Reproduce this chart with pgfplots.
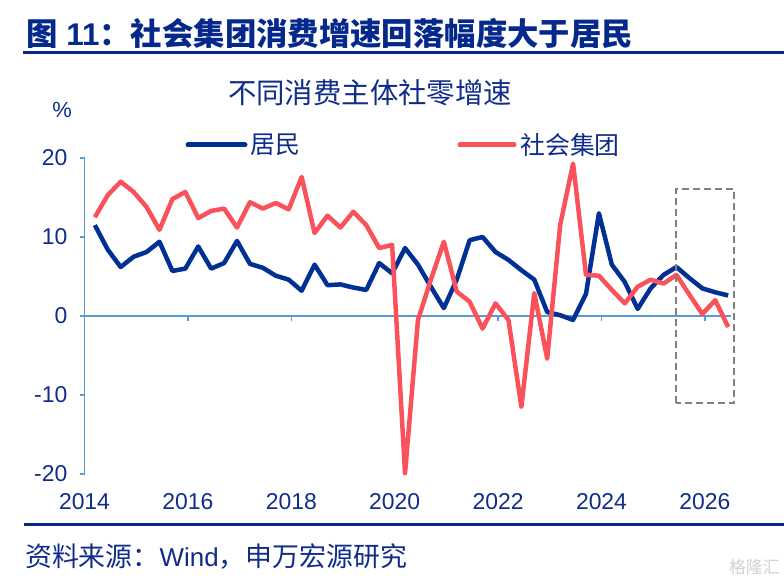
\documentclass[border=0pt]{standalone}
\usepackage{pgfplots}
\pgfplotsset{compat=1.18}
\usepackage{fontspec}
\setmainfont{Liberation Sans}
\newfontfamily\cjk{Noto Sans CJK SC}
\definecolor{textblue}{RGB}{16,44,138}
\definecolor{titleblue}{RGB}{4,40,140}
\definecolor{blueline}{RGB}{0,48,150}
\definecolor{redline}{RGB}{250,82,90}
\definecolor{axisblue}{RGB}{90,155,213}
\pgfplotstableread{
x blue red
2014.20 11.5 12.5
2014.45 8.4 15.3
2014.70 6.2 17.0
2014.95 7.5 15.7
2015.20 8.1 13.8
2015.45 9.4 10.9
2015.70 5.7 14.8
2015.95 6.0 15.7
2016.20 8.8 12.4
2016.45 6.0 13.3
2016.70 6.7 13.6
2016.95 9.5 11.2
2017.20 6.6 14.4
2017.45 6.1 13.6
2017.70 5.1 14.3
2017.95 4.6 13.5
2018.20 3.2 17.6
2018.45 6.5 10.5
2018.70 3.9 12.7
2018.95 4.0 11.2
2019.20 3.6 13.2
2019.45 3.3 11.5
2019.70 6.7 8.6
2019.95 5.4 9.0
2020.20 8.6 -19.9
2020.45 6.5 -0.5
2020.70 3.7 4.6
2020.95 1.0 9.4
2021.20 4.6 3.1
2021.45 9.6 1.8
2021.70 10.0 -1.6
2021.95 8.1 1.6
2022.20 7.1 -0.5
2022.45 5.8 -11.5
2022.70 4.6 2.9
2022.95 0.5 -5.4
2023.20 0.1 11.5
2023.45 -0.5 19.3
2023.70 2.8 5.2
2023.95 13.0 5.1
2024.20 6.5 3.3
2024.45 4.3 1.6
2024.70 0.9 3.7
2024.95 3.5 4.6
2025.20 5.2 4.1
2025.45 6.2 5.2
2025.70 4.8 2.7
2025.95 3.5 0.25
2026.20 3.0 2.0
2026.45 2.6 -1.4
}\datatable
\begin{document}
\begin{tikzpicture}
\path[use as bounding box] (0bp,0bp) rectangle (784bp,580bp);
% main title
\node[anchor=west, inner sep=0pt, text=titleblue] at (26bp,546bp)
  {\fontsize{31.5}{31.5}\selectfont\bfseries{\cjk 图} 11{\cjk ：社会集团消费增速回落幅度大于居民}};
\draw[titleblue, line width=3bp] (23bp,527bp) -- (784bp,527bp);
% chart title
\node[inner sep=0pt, text=textblue] at (370bp,487bp)
  {\fontsize{28.5}{28.5}\selectfont\cjk 不同消费主体社零增速};
\node[inner sep=0pt, text=textblue] at (62bp,470bp) {\fontsize{22}{22}\selectfont \%};
% legend
\draw[blueline, line width=5bp, line cap=round] (188bp,435bp) -- (245bp,435bp);
\node[anchor=west, inner sep=0pt, text=textblue] at (250bp,435bp) {\fontsize{25}{25}\selectfont\cjk 居民};
\draw[redline, line width=5bp, line cap=round] (460bp,435bp) -- (514bp,435bp);
\node[anchor=west, inner sep=0pt, text=textblue] at (520bp,435bp) {\fontsize{25}{25}\selectfont\cjk 社会集团};
% bottom
\draw[titleblue, line width=3bp] (24bp,55bp) -- (784bp,55bp);
\node[anchor=west, inner sep=0pt, text=textblue] at (25bp,23bp)
  {{\fontsize{27}{27}\selectfont\cjk 资料来源：}{\fontsize{26}{26}\selectfont Wind}{\fontsize{27}{27}\selectfont\cjk ，申万宏源研究}};
\node[anchor=east, inner sep=0pt, text=black!18] at (780bp,13bp)
  {\fontsize{17}{17}\selectfont\cjk 格隆汇};
\begin{axis}[
  at={(84.5bp,106bp)}, anchor=south west,
  scale only axis, width=646.25bp, height=316bp,
  xmin=2014, xmax=2026.5, ymin=-20, ymax=20,
  clip=false,
  axis lines=left,
  x axis line style={draw=none},
  y axis line style={axisblue, line width=1.3bp, -},
  xtick={2014,2016,2018,2020,2022,2024,2026},
  xticklabels={2014,2016,2018,2020,2022,2024,2026},
  ytick={-20,-10,0,10,20},
  xtick style={draw=none},
  ytick style={axisblue, line width=1.3bp},
  major tick length=5bp,
  tick align=outside,
  ticklabel style={font=\fontsize{23}{23}\selectfont, text=textblue},
  xticklabel style={inner sep=0pt, anchor=north, yshift=-14bp},
  yticklabel style={inner sep=0pt, anchor=east, xshift=-12bp},
  /pgf/number format/assume math mode=true,
]
\draw[axisblue, line width=1.3bp] (axis cs:2014,0) -- (axis cs:2026.5,0);
\pgfplotsinvokeforeach{2016,2018,2020,2022,2024,2026}{
  \draw[axisblue, line width=1.3bp] (axis cs:#1,0) -- ++(0bp,-5bp);
}
\addplot[blueline, line width=4.5bp, line join=round] table[x=x, y=blue] {\datatable};
\addplot[redline, line width=4.5bp, line join=round] table[x=x, y=red] {\datatable};
\draw[black!50, line width=2bp, dash pattern=on 7bp off 4bp]
  (axis cs:2025.44,-11.0) rectangle (axis cs:2026.56,16.1);
\end{axis}
\end{tikzpicture}
\end{document}
